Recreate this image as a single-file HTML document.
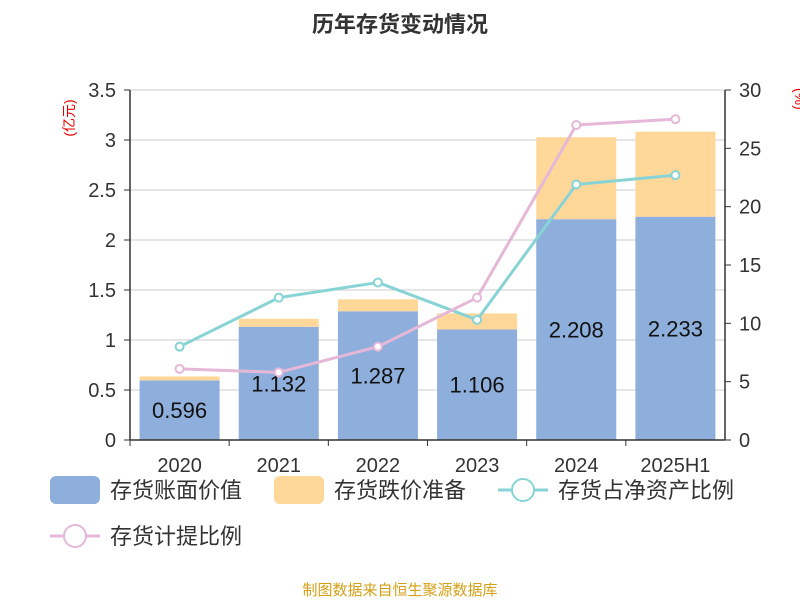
<!DOCTYPE html>
<html><head><meta charset="utf-8"><style>
body{margin:0;background:#fff;}
svg{display:block;font-family:"Liberation Sans","Noto Sans CJK SC",sans-serif;}
</style></head><body>
<svg id="c" width="800" height="600">
<text x="400" y="32" text-anchor="middle" font-size="22" font-weight="bold" fill="#333">历年存货变动情况</text>
<text transform="translate(74,118) rotate(-90)" text-anchor="middle" font-size="14" fill="#e00">(亿元)</text>
<text transform="translate(795,88) rotate(90)" font-size="14" fill="#e00">(%)</text>
<g id="grid"></g><g id="bars"></g><g id="lines"></g><g id="axes"></g>
<g font-size="22" fill="#333">
<rect x="50" y="476" width="50" height="28" rx="6" fill="#8eaedb"/>
<text x="110" y="498">存货账面价值</text>
<rect x="274" y="476" width="50" height="28" rx="6" fill="#ffd899"/>
<text x="334" y="498">存货跌价准备</text>
<line x1="498" y1="490" x2="548" y2="490" stroke="#88d3d6" stroke-width="3"/>
<circle cx="523" cy="490" r="11" fill="#fff" stroke="#88d3d6" stroke-width="2"/>
<text x="558" y="498">存货占净资产比例</text>
<line x1="50" y1="536" x2="100" y2="536" stroke="#e6b8d8" stroke-width="3"/>
<circle cx="75" cy="536" r="11" fill="#fff" stroke="#e6b8d8" stroke-width="2"/>
<text x="110" y="544">存货计提比例</text>
</g>
<text x="400" y="595" text-anchor="middle" font-size="15" fill="#d4a017">制图数据来自恒生聚源数据库</text>
</svg>
<script>
const categories=["2020","2021","2022","2023","2024","2025H1"];
const bookValue=[0.596,1.132,1.287,1.106,2.208,2.233];
const reserve=[0.04,0.08,0.12,0.16,0.82,0.85];
const netAssetRatio=[8.0,12.2,13.5,10.3,21.9,22.7];
const provisionRatio=[6.1,5.8,8.0,12.2,27.0,27.5];
const leftTicks=["0","0.5","1","1.5","2","2.5","3","3.5"];
const rightTicks=["0","5","10","15","20","25","30"];
const NS="http://www.w3.org/2000/svg";
const X0=130,X1=725,Y0=440,Y1=90;
const step=(X1-X0)/categories.length;
const xc=i=>X0+step*(i+0.5);
const yL=v=>Y0-(v/3.5)*(Y0-Y1);
const yR=v=>Y0-(v/30)*(Y0-Y1);
function mk(tag,attrs,parent,txt){const e=document.createElementNS(NS,tag);for(const k in attrs)e.setAttribute(k,attrs[k]);if(txt!==undefined)e.textContent=txt;document.getElementById(parent).appendChild(e);return e;}
leftTicks.forEach(t=>{const y=yL(parseFloat(t));
const g=mk('line',{x1:X0,x2:X1,y1:y,y2:y,stroke:'#ccc','stroke-width':1},'grid');


const l=mk('text',{x:X0-14,y:y+7,'text-anchor':'end','font-size':20,fill:'#333'},'axes',t);


mk('line',{x1:X0-6,x2:X0,y1:y,y2:y,stroke:'#333'},'axes');});
rightTicks.forEach(t=>{const y=yR(parseFloat(t));
const l=mk('text',{x:X1+14,y:y+7,'font-size':20,fill:'#333'},'axes',t);


mk('line',{x1:X1,x2:X1+6,y1:y,y2:y,stroke:'#333'},'axes');});
mk('line',{x1:X0,x2:X0,y1:Y1,y2:Y0,stroke:'#333','stroke-width':1.5},'axes');
mk('line',{x1:X1,x2:X1,y1:Y1,y2:Y0,stroke:'#333','stroke-width':1.5},'axes');
mk('line',{x1:X0,x2:X1,y1:Y0,y2:Y0,stroke:'#333','stroke-width':1.5},'axes');
categories.forEach((c,i)=>{
const x=xc(i),w=80;
const b=mk('rect',{x:x-w/2,y:yL(bookValue[i]),width:w,height:Y0-yL(bookValue[i]),fill:'#8eaedb'},'bars');


const r=mk('rect',{x:x-w/2,y:yL(bookValue[i]+reserve[i]),width:w,height:yL(bookValue[i])-yL(bookValue[i]+reserve[i]),fill:'#ffd899'},'bars');


const v=mk('text',{x:x,y:Math.min(yL(bookValue[i]/2),415)+8,'text-anchor':'middle','font-size':22,fill:'#111'},'bars',bookValue[i].toFixed(3));


const t=mk('text',{x:x,y:Y0+32,'text-anchor':'middle','font-size':20,fill:'#333'},'axes',c);


mk('line',{x1:X0+step*i,x2:X0+step*i,y1:Y0,y2:Y0+6,stroke:'#333'},'axes');
});
function series(vals,color,name){
const p=mk('polyline',{points:vals.map((v,i)=>xc(i)+','+yR(v)).join(' '),fill:'none',stroke:color,'stroke-width':3},'lines');


vals.forEach((v,i)=>{const c=mk('circle',{cx:xc(i),cy:yR(v),r:4,fill:'#fff',stroke:color,'stroke-width':2},'lines');

});
}
series(netAssetRatio,'#88d3d6','net-asset-ratio');
series(provisionRatio,'#e6b8d8','provision-ratio');
</script>
</body></html>
